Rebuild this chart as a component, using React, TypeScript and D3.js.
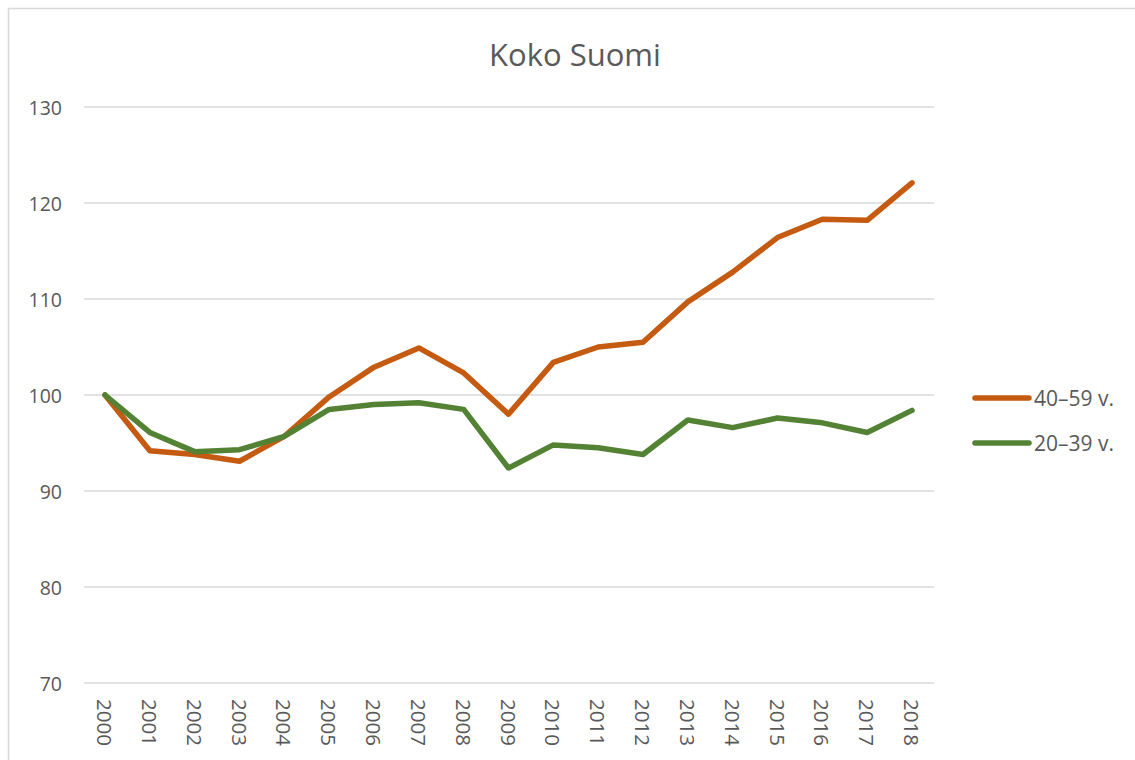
import React from "react";
import * as d3 from "d3";

const years = ["2000","2001","2002","2003","2004","2005","2006","2007","2008","2009","2010","2011","2012","2013","2014","2015","2016","2017","2018"];
const age4059 = [100, 94.2, 93.8, 93.1, 95.7, 99.8, 102.9, 104.9, 102.3, 98.0, 103.4, 105.0, 105.5, 109.7, 112.8, 116.4, 118.3, 118.2, 122.1];
const age2039 = [100, 96.1, 94.1, 94.3, 95.7, 98.5, 99.0, 99.2, 98.5, 92.4, 94.8, 94.5, 93.8, 97.4, 96.6, 97.6, 97.1, 96.1, 98.4];
const yTicks = [70, 80, 90, 100, 110, 120, 130];
const seriesNames = ["40–59 v.", "20–39 v."];
const colors = ["#C55A11", "#548235"];

export default function App() {
  const W = 1135, H = 760;
  const x = d3.scalePoint<string>().domain(years).range([105, 912]);
  const y = d3.scaleLinear().domain([70, 130]).range([683, 107]);
  const line = d3.line<number>().x((_, i) => x(years[i])!).y(d => y(d));
  const font = "'Open Sans', 'Noto Sans', sans-serif";
  const txt = "#595959";
  const series = [age4059, age2039];
  return (
    <svg width={W} height={H} style={{ position: "absolute", left: 0, top: 0, fontFamily: font }}>
      <rect x={0} y={0} width={W} height={H} fill="#fff" />
      <rect x={8.5} y={8.5} width={1140} height={770} fill="#fff" stroke="#d9d9d9" strokeWidth={1.5} />
      <text x={575} y={54} textAnchor="middle" dominantBaseline="central" fontSize={31} fill={txt}>Koko Suomi</text>
      {yTicks.map(t => (
        <g key={t}>
          <line x1={84} x2={934} y1={y(t)} y2={y(t)} stroke="#d9d9d9" strokeWidth={1.5} />
          <text x={62} y={y(t)} textAnchor="end" dominantBaseline="central" fontSize={19.5} fill={txt}>{t}</text>
        </g>
      ))}
      {years.map(yr => (
        <text key={yr} transform={`translate(${x(yr)},699) rotate(90)`} textAnchor="start" dominantBaseline="central" fontSize={20.5} fill={txt}>{yr}</text>
      ))}
      {series.map((s, i) => (
        <path key={i} d={line(s)!} fill="none" stroke={colors[i]} strokeWidth={5.5} strokeLinejoin="round" strokeLinecap="round" />
      ))}
      {seriesNames.map((n, i) => (
        <g key={n}>
          <line x1={975} x2={1029} y1={398 + i * 45} y2={398 + i * 45} stroke={colors[i]} strokeWidth={5.5} strokeLinecap="round" />
          <text x={1034} y={398 + i * 45} dominantBaseline="central" fontSize={21} fill={txt}>{n}</text>
        </g>
      ))}
    </svg>
  );
}
